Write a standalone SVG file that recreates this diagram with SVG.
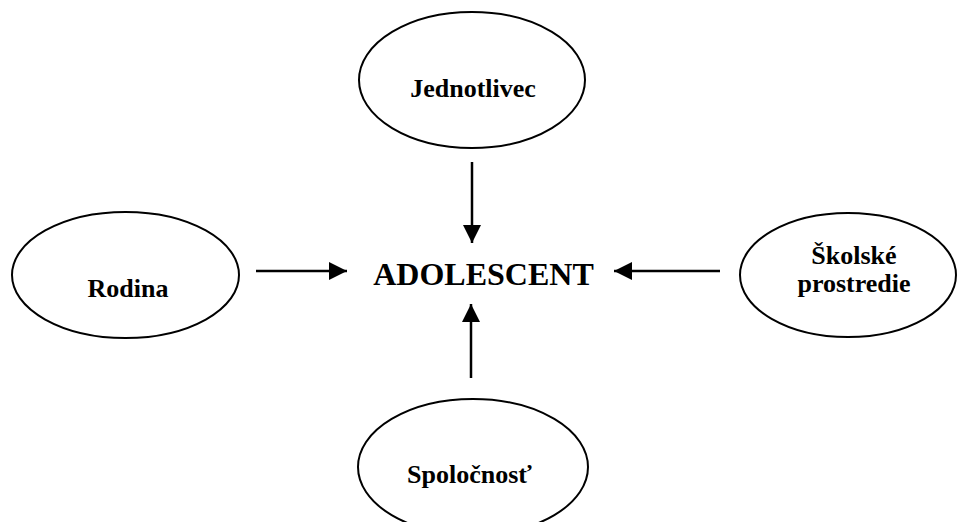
<svg xmlns="http://www.w3.org/2000/svg" width="957" height="522" viewBox="0 0 957 522">
<style>
.node ellipse{fill:#fff;stroke:#000;stroke-width:2}
.lbl{font-family:"Liberation Serif","Times New Roman",serif;font-weight:bold;font-size:26px;fill:#000;text-anchor:middle}
.main{font-family:"Liberation Serif","Times New Roman",serif;font-weight:bold;font-size:32px;fill:#000;text-anchor:middle}
.conn line{stroke:#000;stroke-width:2.5}
</style>
<defs>
<marker id="ah" markerUnits="userSpaceOnUse" markerWidth="18" markerHeight="18" viewBox="0 0 16 16" refX="16" refY="8" orient="auto">
<path d="M0,0 L16,8 L0,16 Z" fill="#000"/>
</marker>
</defs>
<rect width="957" height="522" fill="#fff"/>
<g id="jednotlivec" class="node">
<ellipse cx="472" cy="80" rx="113" ry="68"/>
<text class="lbl" x="473" y="97">Jednotlivec</text>
</g>
<g id="rodina" class="node">
<ellipse cx="125.5" cy="275" rx="113.5" ry="63"/>
<text class="lbl" x="128" y="297">Rodina</text>
</g>
<g id="skolske" class="node">
<ellipse cx="848" cy="275" rx="108" ry="62"/>
<text class="lbl" x="854" y="264">Školské</text>
<text class="lbl" x="854" y="292">prostredie</text>
</g>
<g id="spolocnost" class="node">
<ellipse cx="473" cy="467" rx="115" ry="68"/>
<text class="lbl" x="469.5" y="483">Spoločnosť</text>
</g>
<g id="adolescent">
<text class="main" x="483.5" y="285">ADOLESCENT</text>
</g>
<g id="connectors" class="conn">
<line x1="472" y1="162" x2="472" y2="243" marker-end="url(#ah)"/>
<line x1="471" y1="378" x2="471" y2="304" marker-end="url(#ah)"/>
<line x1="256" y1="271" x2="347" y2="271" marker-end="url(#ah)"/>
<line x1="720" y1="271" x2="614" y2="271" marker-end="url(#ah)"/>
</g>
</svg>
